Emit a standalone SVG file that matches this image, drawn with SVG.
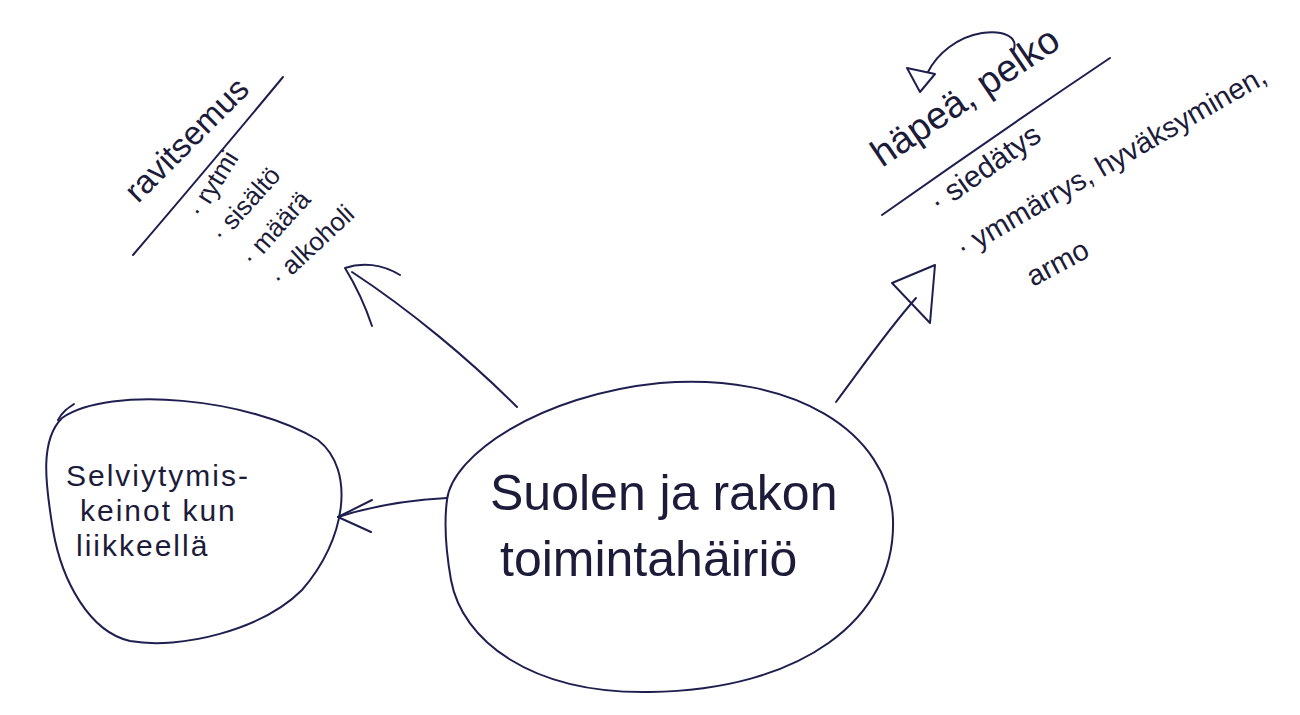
<svg xmlns="http://www.w3.org/2000/svg" width="1300" height="715" viewBox="0 0 1300 715">
<style>
.ink{fill:none;stroke:#1f1f4f;stroke-width:2;stroke-linecap:round;stroke-linejoin:round}
.t{font-family:"Liberation Sans",Arial,sans-serif;fill:#1c1c3a}
</style>
<rect width="1300" height="715" fill="#ffffff"/>
<g id="center-node">
<path class="ink" d="M 447,500 C 452,455 540,395 660,383 C 790,372 890,430 893,520 C 896,620 800,690 650,692 C 530,694 462,640 451,580 C 444,540 445,515 447,500 Z"/>
<text class="t" font-size="50" x="490" y="510">Suolen ja rakon</text>
<text class="t" font-size="50" x="500" y="576">toimintahäiriö</text>
</g>
<g id="left-node">
<path class="ink" d="M 62,418 C 110,385 250,398 318,440 C 356,470 346,540 302,590 C 262,630 180,650 130,641 C 90,632 62,582 53,530 C 45,482 40,440 62,418 Z"/>
<path class="ink" d="M 58,420 C 62,412 68,408 74,404"/>
<text class="t" font-size="30" letter-spacing="2" x="66" y="486">Selviytymis-</text>
<text class="t" font-size="30" letter-spacing="2" x="80" y="521">keinot kun</text>
<text class="t" font-size="30" letter-spacing="2" x="76" y="556">liikkeellä</text>
</g>
<g id="ravitsemus">
<text class="t" font-size="33" transform="translate(138,204) rotate(-45)">ravitsemus</text>
<path class="ink" d="M 133,255 C 180,200 235,135 283,77"/>
<text class="t" font-size="26" transform="translate(201,219) rotate(-58)">· rytmi</text>
<text class="t" font-size="26" transform="translate(222,243) rotate(-48)">· sisältö</text>
<text class="t" font-size="26" transform="translate(252,267) rotate(-48)">· määrä</text>
<text class="t" font-size="26" transform="translate(280,287) rotate(-43)">· alkoholi</text>
</g>
<g id="hapea">
<text class="t" font-size="38" transform="translate(882,168) rotate(-34)">häpeä, pelko</text>
<path class="ink" d="M 882,215 C 960,160 1040,105 1110,58"/>
<text class="t" font-size="30" transform="translate(938,213) rotate(-35)">· siedätys</text>
<text class="t" font-size="29" transform="translate(963,258) rotate(-30)">· ymmärrys, hyväksyminen,</text>
<text class="t" font-size="29" transform="translate(1033,287) rotate(-28)">armo</text>
</g>
<g id="connectors">
<path class="ink" d="M 517,407 C 470,360 410,310 352,272"/>
<path class="ink" d="M 372,326 C 365,305 356,286 345,268 C 362,262 382,264 400,275"/>
<path class="ink" d="M 447,498 C 410,500 372,506 338,517"/>
<path class="ink" d="M 372,500 L 338,517 L 371,532"/>
<path class="ink" d="M 836,402 C 860,370 886,332 916,298"/>
<path class="ink" d="M 892,283 L 935,265 L 930,323 Z"/>
<path class="ink" d="M 1013,52 C 1020,36 1002,30 982,33 C 957,37 937,54 928,72"/>
<path class="ink" d="M 907,68 L 935,74 L 920,92 Z"/>
</g>
</svg>
